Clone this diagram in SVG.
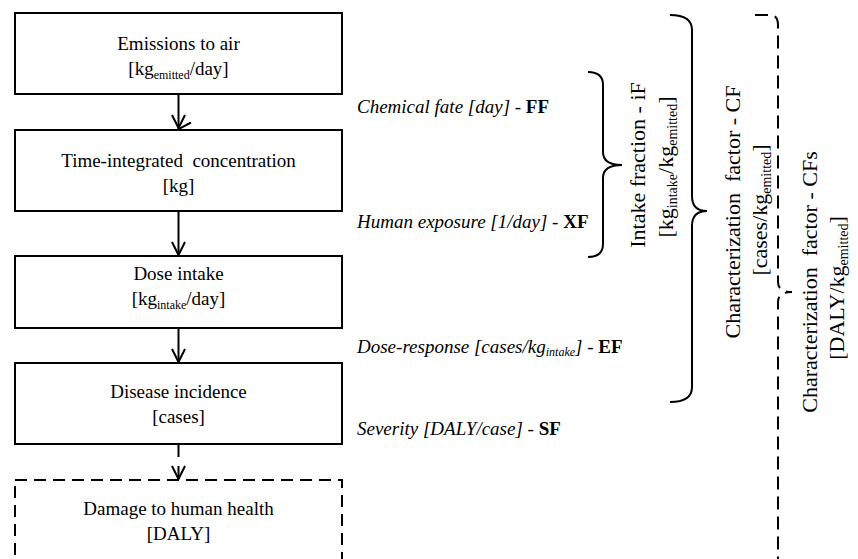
<svg xmlns="http://www.w3.org/2000/svg" width="858" height="559" viewBox="0 0 858 559">
<defs>
<style>
.box{fill:#fff;stroke:#000;stroke-width:2}
.dbox{fill:#fff;stroke:#000;stroke-width:2;stroke-dasharray:12 7}
.t{font-family:"Liberation Serif","Times New Roman",serif;font-size:19px;fill:#000;text-anchor:middle}
.sub{font-size:12px}
.lab{font-family:"Liberation Serif","Times New Roman",serif;font-size:19px;fill:#000;font-style:italic}
.b{font-weight:bold;font-style:normal}
.n{font-style:normal}
.r{font-family:"Liberation Serif","Times New Roman",serif;font-size:22px;fill:#000;text-anchor:middle}
.rs{font-size:14px}
.conn{stroke:#000;stroke-width:2;fill:none}
.brace{stroke:#000;stroke-width:2;fill:none}
</style>
<marker id="arr" viewBox="0 0 14 14" refX="7" refY="13" markerWidth="14" markerHeight="14" markerUnits="userSpaceOnUse" orient="auto-start-reverse">
<path d="M0.5,0.5 L7,13 L13.5,0.5" fill="none" stroke="#000" stroke-width="2"/>
</marker>
</defs>
<rect width="858" height="559" fill="#fff"/>

<g id="connectors">
<line class="conn" x1="178.5" y1="94" x2="178.5" y2="129" marker-end="url(#arr)" transform="rotate(0)"/>
<line class="conn" x1="178.5" y1="211" x2="178.5" y2="255"/>
<line class="conn" x1="178.5" y1="328" x2="178.5" y2="362"/>
<line class="conn" x1="178.5" y1="444" x2="178.5" y2="479" stroke-dasharray="13 9"/>
<path class="conn" d="M172,115 L178.5,128 L185,115"/>
<path class="conn" d="M172,242 L178.5,255 L185,242"/>
<path class="conn" d="M172,349 L178.5,362 L185,349"/>
<path class="conn" d="M172,466 L178.5,479 L185,466"/>
</g>

<g id="emissions">
<rect class="box" x="15" y="13" width="327" height="81"/>
<text class="t" x="178.5" y="50">Emissions to air</text>
<text class="t" x="178.5" y="75">[kg<tspan class="sub" dy="4">emitted</tspan><tspan dy="-4">/day]</tspan></text>
</g>

<g id="concentration">
<rect class="box" x="15" y="130" width="327" height="81"/>
<text class="t" x="178.5" y="167" xml:space="preserve">Time-integrated  concentration</text>
<text class="t" x="178.5" y="192">[kg]</text>
</g>

<g id="dose">
<rect class="box" x="15" y="256" width="327" height="72"/>
<text class="t" x="178.5" y="280">Dose intake</text>
<text class="t" x="178.5" y="305">[kg<tspan class="sub" dy="4">intake</tspan><tspan dy="-4">/day]</tspan></text>
</g>

<g id="disease">
<rect class="box" x="15" y="363" width="327" height="81"/>
<text class="t" x="178.5" y="398">Disease incidence</text>
<text class="t" x="178.5" y="423">[cases]</text>
</g>

<g id="damage">
<rect class="dbox" x="15" y="480" width="327" height="100"/>
<text class="t" x="178.5" y="515">Damage to human health</text>
<text class="t" x="178.5" y="540">[DALY]</text>
</g>

<g id="factor-labels">
<text class="lab" x="357" y="113">Chemical fate [day]<tspan class="n"> - </tspan><tspan class="b">FF</tspan></text>
<text class="lab" x="357" y="228">Human exposure [1/day]<tspan class="n"> - </tspan><tspan class="b">XF</tspan></text>
<text class="lab" x="357" y="353">Dose-response [cases/kg<tspan class="sub" dy="3">intake</tspan><tspan dy="-3">]</tspan><tspan class="n"> - </tspan><tspan class="b">EF</tspan></text>
<text class="lab" x="357" y="435">Severity [DALY/case]<tspan class="n"> - </tspan><tspan class="b">SF</tspan></text>
</g>

<g id="brace-iF">
<path class="brace" d="M588,72 Q603,72 603,85 L603,152 Q603,165 622,165 Q603,165 603,178 L603,244 Q603,257 588,257"/>
<text class="r" transform="translate(645,165) rotate(-90)">Intake fraction - iF</text>
<text class="r" transform="translate(673,167) rotate(-90)">[kg<tspan class="rs" dy="4">intake</tspan><tspan dy="-4">/kg</tspan><tspan class="rs" dy="4">emitted</tspan><tspan dy="-4">]</tspan></text>
</g>

<g id="brace-CF">
<path class="brace" d="M670,15 Q692,15 692,30 L692,196 Q692,211 707,211 Q692,211 692,226 L692,387 Q692,402 670,402"/>
<text class="r" transform="translate(740,212) rotate(-90)" xml:space="preserve">Characterization  factor - CF</text>
<text class="r" transform="translate(767,210) rotate(-90)">[cases/kg<tspan class="rs" dy="4">emitted</tspan><tspan dy="-4">]</tspan></text>
</g>

<g id="brace-CFs">
<path class="brace" stroke-dasharray="13 7" d="M755,15 L770,15 Q778,15 778,25 L778,282 Q778,292 792,292 Q778,292 778,302 L778,575"/>
<text class="r" transform="translate(817,282) rotate(-90)" xml:space="preserve">Characterization  factor - CFs</text>
<text class="r" transform="translate(844,288) rotate(-90)">[DALY/kg<tspan class="rs" dy="4">emitted</tspan><tspan dy="-4">]</tspan></text>
</g>
</svg>
